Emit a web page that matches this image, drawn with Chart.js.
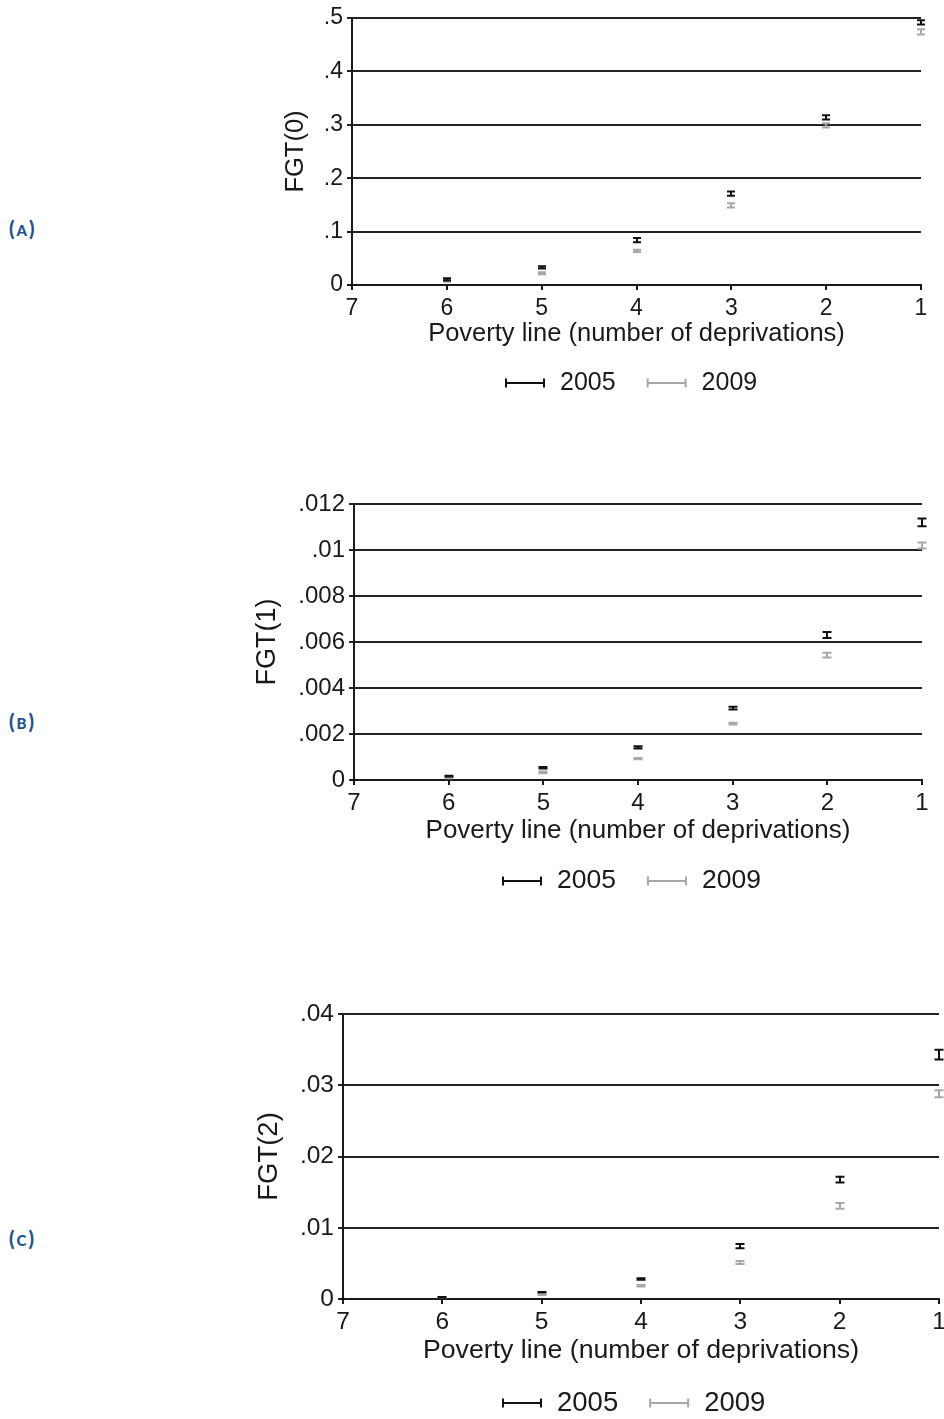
<!DOCTYPE html>
<html><head><meta charset="utf-8">
<script src="https://cdn.jsdelivr.net/npm/chart.js@4.4.1/dist/chart.umd.min.js"></script>
<style>
html,body{margin:0;padding:0;background:#fff;width:944px;height:1419px;overflow:hidden;position:relative}
canvas{position:absolute;left:0}
.lab{position:absolute;left:9px;font-family:Lato,'Open Sans',sans-serif;font-weight:900;color:#24548c;font-size:20px;line-height:22px;letter-spacing:2px;white-space:nowrap}
.lab span{font-size:15px}
</style></head><body>
<div class="lab" style="top:217px">(<span>A</span>)</div>
<div class="lab" style="top:710px">(<span>B</span>)</div>
<div class="lab" style="top:1227px">(<span>C</span>)</div>
<canvas id="cA" width="944" height="430" style="top:0px"></canvas>
<canvas id="cB" width="944" height="440" style="top:480px"></canvas>
<canvas id="cC" width="1000" height="429" style="top:990px"></canvas>
<script>
// ---------- data ----------
const povertyLines = [7, 6, 5, 4, 3, 2, 1];
const xTickLabels = ['7', '6', '5', '4', '3', '2', '1'];
const seriesLabels = ['2005', '2009'];
const xAxisTitle = 'Poverty line (number of deprivations)';

const fgt0Title = 'FGT(0)';
const fgt0_2005 = [0, 0.0105, 0.033, 0.084, 0.171, 0.314, 0.492];
const fgt0_2005_ci = [0, 0.002, 0.002, 0.004, 0.004, 0.004, 0.004];
const fgt0_2009 = [0, 0.008, 0.022, 0.064, 0.149, 0.299, 0.474];
const fgt0_2009_ci = [0, 0.002, 0.002, 0.002, 0.004, 0.004, 0.005];
const fgt0Ticks = [0, 0.1, 0.2, 0.3, 0.4, 0.5];
const fgt0TickLabels = ['0', '.1', '.2', '.3', '.4', '.5'];

const fgt1Title = 'FGT(1)';
const fgt1_2005 = [0, 0.00017, 0.00053, 0.00142, 0.00312, 0.0063, 0.0112];
const fgt1_2005_ci = [0, 0.00002, 0.00003, 0.00005, 0.00006, 0.00013, 0.00017];
const fgt1_2009 = [0, 0.0001, 0.00033, 0.00093, 0.00245, 0.00543, 0.0102];
const fgt1_2009_ci = [0, 0.00002, 0.00004, 0.00003, 0.00004, 0.0001, 0.00013];
const fgt1Ticks = [0, 0.002, 0.004, 0.006, 0.008, 0.01, 0.012];
const fgt1TickLabels = ['0', '.002', '.004', '.006', '.008', '.01', '.012'];

const fgt2Title = 'FGT(2)';
const fgt2_2005 = [0, 0.00024, 0.00095, 0.0028, 0.00743, 0.01676, 0.0343];
const fgt2_2005_ci = [0, 0.00005, 0.00004, 0.0001, 0.0003, 0.0004, 0.0007];
const fgt2_2009 = [0, 0.00018, 0.0006, 0.00185, 0.00512, 0.01307, 0.0288];
const fgt2_2009_ci = [0, 0.00004, 0.00004, 0.0001, 0.0002, 0.0004, 0.0005];
const fgt2Ticks = [0, 0.01, 0.02, 0.03, 0.04];
const fgt2TickLabels = ['0', '.01', '.02', '.03', '.04'];

// ---------- styles ----------
const FONT = "'Liberation Sans', Arial, sans-serif";
const INK = '#1a1a1a';
const seriesColors = ['#111111', '#a8a8a8'];

Chart.defaults.font.family = FONT;
Chart.defaults.color = INK;

const rcapPlugin = {
  id: 'rcap',
  afterDatasetsDraw(chart, args, opts) {
    const {ctx} = chart;
    const xs = chart.scales.x, ys = chart.scales.y;
    ctx.save();
    [1, 0].forEach(di => {
      const ds = chart.data.datasets[di];
      ctx.strokeStyle = ds.borderColor;
      ctx.lineWidth = 2;
      ds.data.forEach((p, i) => {
        const e = ds.errors[i];
        const px = Math.round(xs.getPixelForValue(p.x));
        const y1 = ys.getPixelForValue(p.y - e);
        const y2 = ys.getPixelForValue(p.y + e);
        const h = opts.capHalf;
        ctx.beginPath();
        ctx.moveTo(px, y1); ctx.lineTo(px, y2);
        ctx.moveTo(px - h, y1); ctx.lineTo(px + h, y1);
        ctx.moveTo(px - h, y2); ctx.lineTo(px + h, y2);
        ctx.stroke();
      });
    });
    ctx.restore();
  },
  afterDraw(chart, args, opts) {
    const {ctx} = chart;
    ctx.save();
    ctx.font = opts.legendFont + 'px ' + FONT;
    ctx.textBaseline = 'middle';
    ctx.textAlign = 'left';
    let x = opts.legendX;
    const y = opts.legendY;
    chart.data.datasets.forEach(ds => {
      ctx.strokeStyle = ds.borderColor;
      ctx.lineWidth = 2;
      ctx.beginPath();
      ctx.moveTo(x, y); ctx.lineTo(x + 38, y);
      ctx.moveTo(x, y - 4.5); ctx.lineTo(x, y + 4.5);
      ctx.moveTo(x + 38, y - 4.5); ctx.lineTo(x + 38, y + 4.5);
      ctx.stroke();
      x += 38 + 16;
      ctx.fillStyle = INK;
      ctx.fillText(ds.label, x, y);
      x += ctx.measureText(ds.label).width + 32;
    });
    ctx.restore();
  }
};

function makePanel(id, g, yTicks, yLabels, yTitle, s05, e05, s09, e09) {
  const canvas = document.getElementById(id);
  const W = canvas.width, H = canvas.height;
  const off = g.canvasTop;
  const top = g.top - off, bottom = g.bottom - off;
  const tickLen = 5;
  const lhT = g.tickFont * 1.2, lhX = g.titleFont * 1.2, lhY = g.yTitleFont * 1.2;
  const yAxisW = g.left - g.padLeft;
  const xAxisH = Math.ceil((g.xTitleY - off) - bottom + lhX / 2 + 2);
  const mk = (vals, errs, k) => ({
    label: seriesLabels[k],
    data: povertyLines.map((x, i) => ({x: x, y: vals[i]})),
    errors: errs,
    borderColor: seriesColors[k],
    backgroundColor: seriesColors[k],
    pointRadius: 0,
    showLine: false
  });
  return new Chart(canvas, {
    type: 'scatter',
    data: {datasets: [mk(s05, e05, 0), mk(s09, e09, 1)]},
    plugins: [rcapPlugin],
    options: {
      responsive: false,
      devicePixelRatio: 1,
      animation: false,
      events: [],
      layout: {padding: {left: g.padLeft, top: top, right: W - g.right, bottom: H - bottom - xAxisH}},
      plugins: {
        legend: {display: false},
        tooltip: {enabled: false},
        rcap: {capHalf: g.capHalf, legendX: g.legendX, legendY: g.legendY - off, legendFont: g.legendFont}
      },
      scales: {
        x: {
          type: 'linear', min: 1, max: 7, reverse: true,
          afterBuildTicks: s => { s.ticks = povertyLines.map(v => ({value: v})); },
          afterFit: s => { s.height = xAxisH; },
          ticks: {
            font: {size: g.tickFont, lineHeight: 1.2},
            padding: (g.xTickY - off) - bottom - tickLen - lhT / 2,
            maxRotation: 0, autoSkip: false,
            callback: v => xTickLabels[povertyLines.indexOf(v)]
          },
          grid: {display: true, drawOnChartArea: false, drawTicks: true, tickLength: tickLen, color: INK, lineWidth: 2},
          border: {display: true, color: INK, width: 2},
          title: {
            display: true, text: xAxisTitle, color: INK,
            font: {size: g.titleFont, lineHeight: 1.2},
            padding: {top: 0, bottom: (bottom + xAxisH) - lhX / 2 - (g.xTitleY - off)}
          }
        },
        y: {
          type: 'linear', min: yTicks[0], max: yTicks[yTicks.length - 1],
          afterBuildTicks: s => { s.ticks = yTicks.map(v => ({value: v})); },
          afterFit: s => { s.width = yAxisW; },
          ticks: {
            font: {size: g.tickFont, lineHeight: 1.2},
            padding: 4, autoSkip: false,
            callback: (v, i) => yLabels[yTicks.indexOf(v)]
          },
          grid: {display: true, drawTicks: true, tickLength: tickLen, color: '#222', lineWidth: 2},
          border: {display: true, color: INK, width: 2},
          title: {
            display: true, text: yTitle, color: INK,
            font: {size: g.yTitleFont, lineHeight: 1.2},
            padding: {top: g.yTitleX - g.padLeft - lhY / 2, bottom: 0}
          }
        }
      }
    }
  });
}

makePanel('cA', {canvasTop: 0, left: 352, right: 921, top: 18, bottom: 285, padLeft: 240,
  yTitleX: 296, xTickY: 309, xTitleY: 334, legendY: 383, legendX: 506,
  tickFont: 23, titleFont: 25.5, yTitleFont: 25.5, legendFont: 25, capHalf: 4},
  fgt0Ticks, fgt0TickLabels, fgt0Title, fgt0_2005, fgt0_2005_ci, fgt0_2009, fgt0_2009_ci);

makePanel('cB', {canvasTop: 480, left: 354, right: 922, top: 504, bottom: 780, padLeft: 220,
  yTitleX: 268, xTickY: 803, xTitleY: 831, legendY: 881, legendX: 503,
  tickFont: 24, titleFont: 26, yTitleFont: 27, legendFont: 26.5, capHalf: 4.5},
  fgt1Ticks, fgt1TickLabels, fgt1Title, fgt1_2005, fgt1_2005_ci, fgt1_2009, fgt1_2009_ci);

makePanel('cC', {canvasTop: 990, left: 343, right: 939, top: 1014, bottom: 1299, padLeft: 210,
  yTitleX: 269, xTickY: 1322, xTitleY: 1351, legendY: 1403, legendX: 503,
  tickFont: 24.5, titleFont: 26.7, yTitleFont: 27.5, legendFont: 27.5, capHalf: 4.5},
  fgt2Ticks, fgt2TickLabels, fgt2Title, fgt2_2005, fgt2_2005_ci, fgt2_2009, fgt2_2009_ci);
</script>
</body></html>
